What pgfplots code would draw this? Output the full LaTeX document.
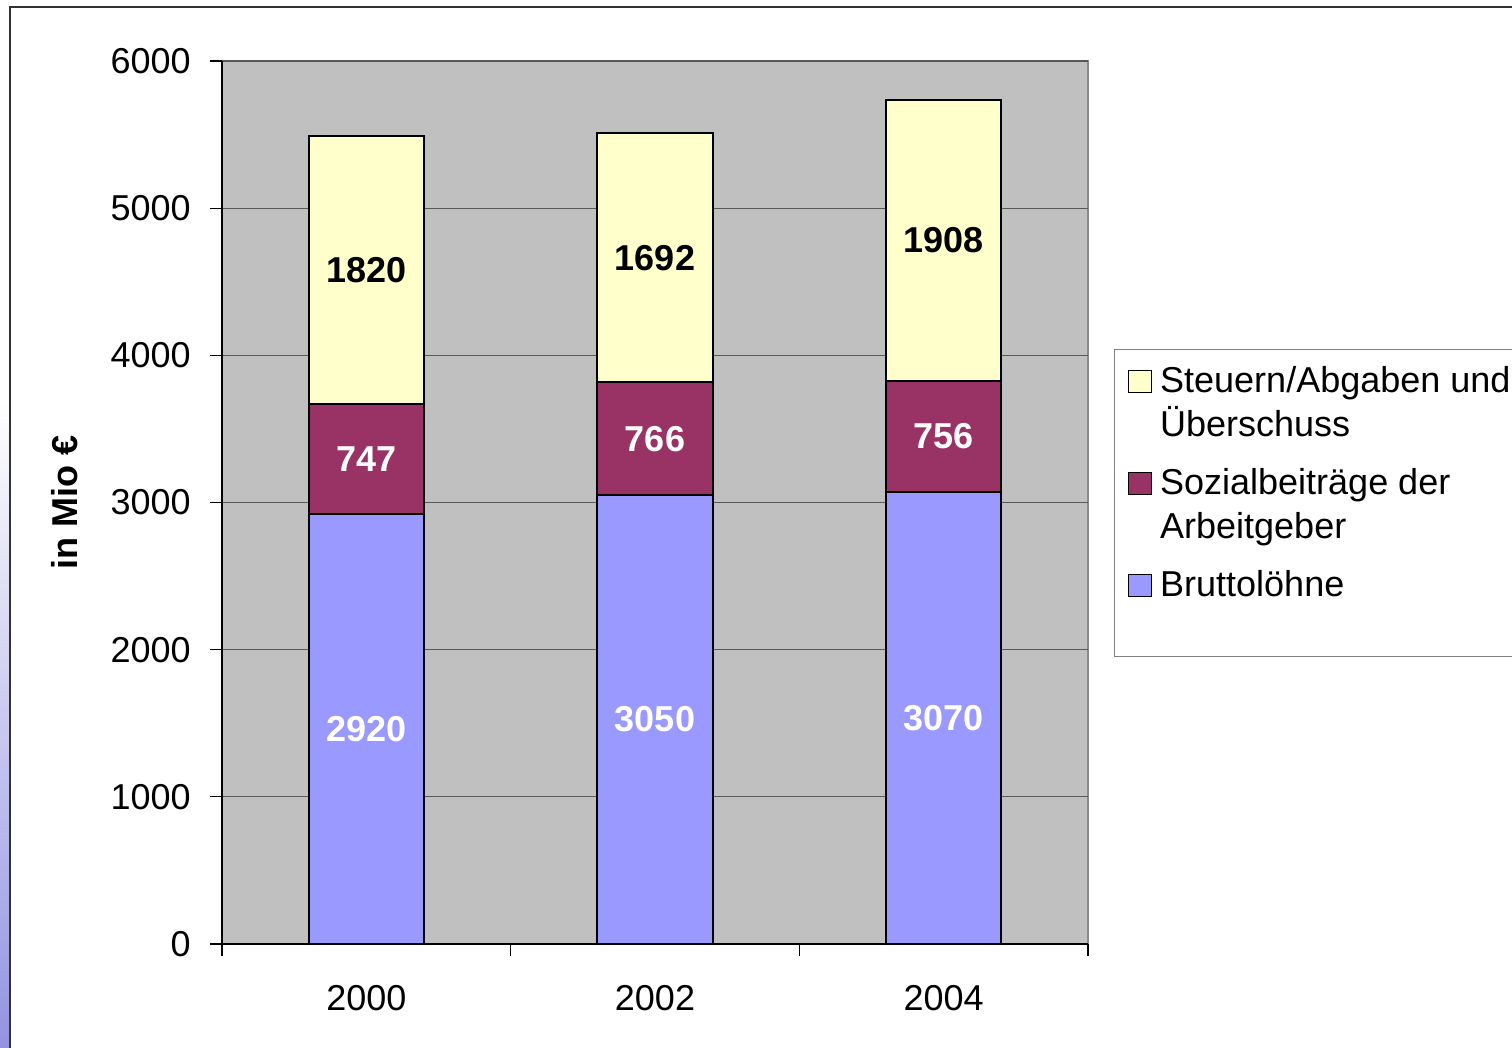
\documentclass[border=0pt]{standalone}
\usepackage{fontspec}
\setmainfont{Liberation Sans}
\usepackage{pgfplots}
\usepackage{pgfplotstable}
\pgfplotsset{compat=1.18}
\definecolor{cyel}{HTML}{FFFFCC}
\definecolor{cmar}{HTML}{993366}
\definecolor{cblu}{HTML}{9999FF}
\definecolor{cbg}{HTML}{C0C0C0}
\pgfplotstableread{
x brutto sozial steuern
0 2920 747 1820
1 3050 766 1692
2 3070 756 1908
}\data
\newcommand\fs{\fontsize{18}{22}\selectfont}
\pgfplotsset{mylegend/.style={legend image code/.code={\draw[##1, line width=0.8pt] (0pt,0pt) rectangle (11.5pt,11pt);}}}
\begin{document}
\begin{tikzpicture}
\path[use as bounding box] (0,0) rectangle (756pt,524pt);
\clip (0,0) rectangle (756pt,524pt);
\shade[top color=white, bottom color={rgb,255:red,147;green,147;blue,224}] (0,0) rectangle (4.5pt,324pt);
\draw[line width=1pt, color=black!80] (5pt,-2pt) -- (5pt,520.5pt) -- (770pt,520.5pt);
\begin{axis}[
 at={(111pt,52pt)}, anchor=south west,
 scale only axis, width=433pt, height=441.5pt,
 ybar stacked, bar width=0.4,
 xmin=-0.5, xmax=2.5, ymin=0, ymax=6000,
 axis x line*=bottom, axis y line*=left,
 axis line style={-, black, line width=0.7pt},
 axis background/.style={fill=cbg, draw=black!45, line width=0.7pt},
 ytick={0,1000,...,6000},
 ymajorgrids, grid style={black!65, line width=0.6pt},
 tick align=outside, major tick length=6pt, tick style={black, line width=0.6pt},
 xtick={-0.5,0.5,1.5,2.5}, xticklabels={},
 extra x ticks={0,1,2}, extra x tick labels={2000,2002,2004},
 extra x tick style={major tick length=0pt},
 ticklabel style={font=\fs},
 /pgf/number format/assume math mode=true,
 /pgf/number format/1000 sep={},
 yticklabel style={anchor=east, inner sep=0pt, xshift=-9.5pt},
 xticklabel style={anchor=north, inner sep=0pt, yshift=-20.5pt},
 ylabel={in Mio €},
 every axis y label/.style={at={(axis description cs:-0.1813,0.5)}, rotate=90, anchor=center, font=\fs\bfseries},
 reverse legend,
 legend style={at={(axis description cs:1.0300,0.674)}, anchor=north west,
   draw=black!50, line width=0.6pt, fill=white, inner xsep=6.5pt, inner ysep=6.1pt,
   font=\fs, row sep=7pt, column sep=4pt,
   nodes={inner sep=0pt, text depth={}, text height={}}, cells={anchor=base west}},
 nodes near coords, point meta=explicit,
 every node near coord/.append style={anchor=center, font=\fs\bfseries},
]
\addplot[fill=cblu, draw=black, line width=1pt, mylegend,
  every node near coord/.append style={text=white}] table[x=x, y=brutto, meta=brutto]{\data};
\addlegendentry{\parbox[t]{9cm}{\strut Bruttolöhne\\[-4.7pt]\strut}}
\addplot[fill=cmar, draw=black, line width=1pt, mylegend,
  every node near coord/.append style={text=white}] table[x=x, y=sozial, meta=sozial]{\data};
\addlegendentry{\parbox[t]{9cm}{\strut Sozialbeiträge der\\Arbeitgeber\strut}}
\addplot[fill=cyel, draw=black, line width=1pt, mylegend,
  every node near coord/.append style={text=black}] table[x=x, y=steuern, meta=steuern]{\data};
\addlegendentry{\parbox[t]{9cm}{\strut Steuern/Abgaben und\\Überschuss\strut}}
\end{axis}
\end{tikzpicture}
\end{document}
